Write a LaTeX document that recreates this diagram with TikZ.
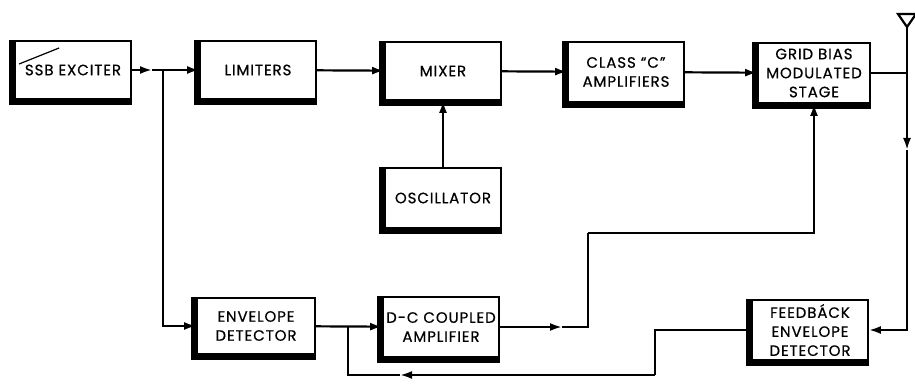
\documentclass[tikz,border=0pt]{standalone}
\usepackage{fontspec}
\setmainfont{Poppins}[LetterSpace=6,FakeBold=0.6]
\usetikzlibrary{arrows.meta}

\begin{document}
\begin{tikzpicture}[x=1pt,y=-1pt,
  blk/.style={draw,line width=1.8pt,align=center,inner sep=0pt,
    minimum width=116pt,minimum height=58pt,font=\fontsize{15}{19}\selectfont},
  wire/.style={line width=2.2pt},
  arr/.style={wire,-{Latex[length=12pt,width=8pt]}}]
\useasboundingbox (0,0) rectangle (915,387);
\node[blk] (ssb) at (73,70) {SSB EXCITER};
\node[blk] (lim) at (258,70) {LIMITERS};
\node[blk] (mix) at (443,71) {MIXER};
\node[blk,minimum height=60pt] (cls) at (626,72) {CLASS “C”\\AMPLIFIERS};
\node[blk,minimum width=112pt,minimum height=60pt] (grid) at (814,73) {GRID BIAS\\MODULATED\\STAGE};
\node[blk,minimum height=60pt] (osc) at (443,198) {OSCILLATOR};
\node[blk,minimum width=118pt,minimum height=56pt] (env) at (256,326) {ENVELOPE\\DETECTOR};
\node[blk,minimum height=60pt] (dc) at (441,327) {D-C COUPLED\\AMPLIFIER};
\node[blk,minimum height=60pt] (fb) at (810,330) {FEEDBÁCK\\ENVELOPE\\DETECTOR};
\foreach \b in {ssb,lim,mix,cls,grid,osc,env,dc,fb}
  \draw[line width=6pt] ([xshift=-2pt]\b.north west) |- ([yshift=-2pt]\b.south east);
\draw[line width=1.2pt] ([shift={(5pt,6pt)}]ssb.west) -- ++(40,-16);
\coordinate (a1) at (152,70);
\coordinate (j1) at (163,70);
\coordinate (j2) at (907,73);
\coordinate (j3) at (348,327);
\coordinate (ant) at (907,27);
\coordinate (a2) at (907,150);
\coordinate (f1) at (655,375);
\coordinate (a3) at (400,375);
\coordinate (a4) at (562,327);
\coordinate (k1) at (588,233);
\draw[arr] (ssb.east) -- (a1);
\draw[wire] (a1) -- (j1);
\draw[arr] (j1) -- (j1 -| lim.west);
\draw[arr] (j1) |- (env.west);
\draw[arr] (lim) -- (mix);
\draw[arr] (mix) -- (cls);
\draw[arr] (cls) -- (grid);
\draw[arr] (osc) -- (mix);
\draw[wire] (grid.east) -- (j2);
\draw[wire] (ant) -- ++(-9,-13) -- ++(18,0) -- cycle;
\draw[wire] (ant) -- (j2);
\draw[arr] (j2) -- (a2);
\draw[arr] (a2) |- (fb.east);
\draw[arr] (env) -- (dc);
\draw[wire] (fb.west) -| (f1);
\draw[arr] (f1) -- (a3);
\draw[wire] (a3) -| (j3);
\draw[arr] (dc.east) -- (a4);
\draw[wire] (a4) -| (k1);
\draw[arr] (k1) -| (grid.south);
\end{tikzpicture}
\end{document}
